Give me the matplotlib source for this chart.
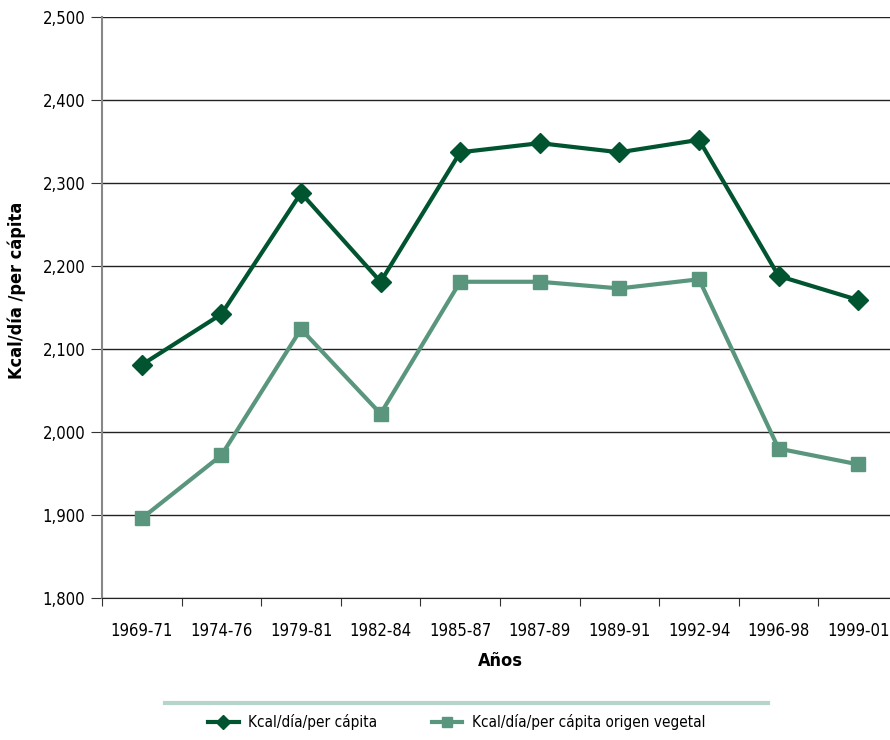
import matplotlib.pyplot as plt
from matplotlib.lines import Line2D
from matplotlib.ticker import FuncFormatter

plt.rcParams['font.family'] = ['DejaVu Sans']
plt.rcParams['font.stretch'] = 'condensed'

periodos = ['1969-71', '1974-76', '1979-81', '1982-84', '1985-87',
            '1987-89', '1989-91', '1992-94', '1996-98', '1999-01']
kcal_total = [2081, 2142, 2288, 2181, 2337, 2348, 2337, 2352, 2188, 2159]
kcal_vegetal = [1896, 1972, 2124, 2022, 2181, 2181, 2173, 2184, 1980, 1961]

dark = '#00542f'
light = '#5a967e'

fig = plt.figure(figsize=(8.9, 7.4), dpi=100)
ax = fig.add_axes([102/890, 1 - 598/740, 796/890, 581/740])

x = range(len(periodos))
ax.plot(x, kcal_total, color=dark, lw=3, marker='D', ms=10,
        label='Kcal/día/per cápita')
ax.plot(x, kcal_vegetal, color=light, lw=3, marker='s', ms=10,
        label='Kcal/día/per cápita origen vegetal')

ax.set_ylim(1800, 2500)
ax.set_yticks(range(1800, 2501, 100))
ax.yaxis.set_major_formatter(FuncFormatter(lambda v, p: f'{int(v):,}'))
ax.set_xlim(-0.5, 9.5)
ax.set_xticks([i - 0.5 for i in range(10)])
ax.set_xticklabels([])
ax.set_xticks(list(x), minor=True)
ax.set_xticklabels(periodos, minor=True, fontsize=12)
ax.tick_params(axis='x', which='minor', length=0, pad=17)
ax.tick_params(axis='x', which='major', length=6, direction='out', color='#333333')
ax.tick_params(axis='y', length=8, color='#333333', labelsize=12, pad=4)

ax.grid(axis='y', color='#222222', lw=1)
ax.set_axisbelow(True)
for s in ['top', 'right']:
    ax.spines[s].set_visible(False)
ax.spines['left'].set_color('#888888')
ax.spines['left'].set_linewidth(1.5)
ax.spines['bottom'].set_color('#222222')

ax.set_ylabel('Kcal/día /per cápita', fontsize=13, fontweight='bold')
ax.yaxis.set_label_coords(-0.095, 0.53)
ax.set_xlabel('Años', fontsize=13, fontweight='bold', labelpad=9)

fig.add_artist(Line2D([165/890, 768/890], [1 - 703/740] * 2, color='#b5d5cb', lw=3))
fig.legend(loc='center left', bbox_to_anchor=(208/890, 1 - 722/740), ncol=2,
           frameon=False, fontsize=11, columnspacing=3.6, handlelength=2.0,
           handletextpad=0.6, markerscale=0.75, borderpad=0, borderaxespad=0)

fig.savefig('out.png', dpi=100)
